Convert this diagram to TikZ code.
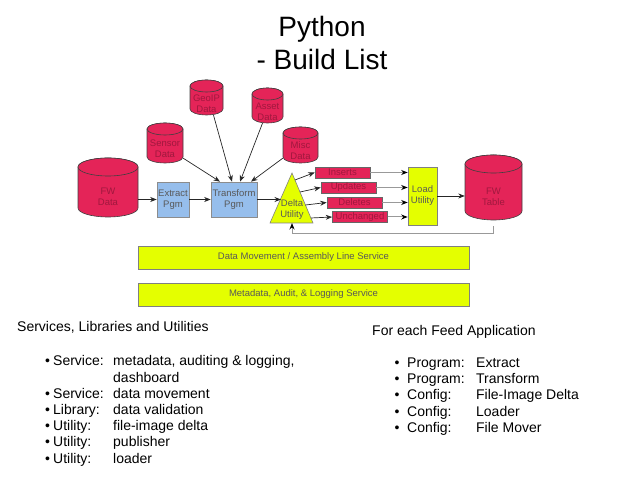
\documentclass[tikz,border=0pt]{standalone}
\usepackage{fontspec}
\setmainfont{Liberation Sans}
\usetikzlibrary{arrows.meta,calc}

\definecolor{dbred}{RGB}{228,36,88}
\definecolor{dbdark}{RGB}{160,24,62}
\definecolor{pgmblue}{RGB}{150,190,236}
\definecolor{utilyel}{RGB}{228,255,0}

\newcommand\dbcyl[7]{%
	\draw[dbline] (#2-#5,#3-#6) -- (#2-#5,#4+#6)
		arc[start angle=180,end angle=360,x radius=#5,y radius=#6]
		-- (#2+#5,#3-#6)
		arc[start angle=0,end angle=180,x radius=#5,y radius=#6] -- cycle;
	\draw[dbline] (#2,#3-#6) ellipse[x radius=#5,y radius=#6];
	\node[dbbox,minimum width=2*#5,minimum height=#3-#4] (#1) at (#2,{(#3+#4)/2}) {};
	\node[dbtext] (#1-t) at (#2,{(#3+#4)/2-#6}) {#7};%
}

\begin{document}
\begin{tikzpicture}[x=1pt,y=1pt,
	dbline/.style={draw=black!75,fill=dbred,line width=0.6pt},
	dbbox/.style={inner sep=0pt},
	dbtext/.style={text=dbdark,font=\fontsize{9.5}{11}\selectfont,align=center,inner sep=0pt},
	pgm/.style={draw=black!45,fill=pgmblue,text=black!65,font=\fontsize{9.5}{11}\selectfont,align=center,inner sep=0pt,line width=0.6pt},
	delt/.style={draw=black!60,fill=dbred,text=dbdark,font=\fontsize{9.5}{11}\selectfont,minimum width=55,minimum height=11,inner sep=0pt,line width=0.6pt},
	util/.style={draw=black!50,fill=utilyel,text=black!65,font=\fontsize{9.5}{11}\selectfont,align=center,inner sep=0pt,line width=0.6pt},
	ybar/.style={util,minimum width=331,minimum height=23},
	arr/.style={-{Stealth[length=6.5pt,width=5pt]},draw=black!85,line width=0.7pt},
	garr/.style={-{Stealth[length=6.5pt,width=5pt,color=black]},draw=black!40,line width=1pt},
	listfont/.style={font=\fontsize{14}{16.2}\selectfont,inner sep=0pt}]

	\useasboundingbox (0,0) rectangle (638,479);

	\node[font=\fontsize{28}{33}\selectfont,align=center,anchor=base] (title) at (322,409) {Python\\- Build List};

	\dbcyl{fwdata}{108}{321}{262}{30}{9}{FW\\Data}
	\dbcyl{sensor}{165}{356}{316}{18}{6}{Sensor\\Data}
	\dbcyl{geoip}{206.5}{399}{364}{16.5}{6}{GeoIP\\Data}
	\dbcyl{asset}{267.5}{391}{356}{15.5}{6}{Asset\\Data}
	\dbcyl{misc}{300.5}{352}{316}{17.5}{6}{Misc\\Data}
	\dbcyl{fwtable}{493.5}{324}{259}{28.5}{9}{FW\\Table}

	\node[pgm,minimum width=32,minimum height=35] (extract) at (173,279.5) {Extract\\Pgm};
	\node[pgm,minimum width=46,minimum height=35] (trans) at (234,279.5) {Transform\\Pgm};

	\coordinate (dtop) at (292,306);
	\coordinate (dbr) at (313,256);
	\coordinate (dbl) at (270,256);
	\coordinate (dbase) at (292,256);
	\draw[util] (dtop) -- (dbr) -- (dbl) -- cycle;
	\node[util,draw=none,fill=none] (delta) at (292,269) {Delta\\Utility};

	\node[delt] (ins) at (342.5,306.5) {Inserts};
	\node[delt] (upd) at (348.5,291.5) {Updates};
	\node[delt] (del) at (354.5,276.5) {Deletes};
	\node[delt] (unch) at (360,262) {Unchanged};

	\node[util,minimum width=29,minimum height=58] (load) at (422.5,283) {Load\\Utility};

	\node[ybar] (dmove) at (303.5,221.5) {Data Movement / Assembly Line Service};
	\node[ybar] (meta) at (303.5,184.5) {Metadata, Audit, \& Logging Service};

	\draw[arr] (extract.west -| fwdata.east) -- (extract.west);
	\draw[arr] (extract) -- (trans);
	\draw[arr] (trans.east) -- (trans.east -| {$(dtop)!0.5!(dbl)$});
	\draw[arr] ([yshift=5]sensor.south east) -- ([xshift=-14]trans.north);
	\draw[arr] ([xshift=7]geoip.south) -- ([xshift=-2]trans.north);
	\draw[arr] ([xshift=-5]asset.south) -- ([xshift=6]trans.north);
	\draw[arr] ([yshift=5]misc.south west) -- ([xshift=17]trans.north);

	\draw[arr] ($(dtop)!0.14!(dbr)$) -- (ins.west);
	\draw[arr] ($(dtop)!0.38!(dbr)$) -- (upd.west);
	\draw[arr] ($(dtop)!0.64!(dbr)$) -- (del.west);
	\draw[arr] ($(dtop)!0.9!(dbr)$) -- (unch.west);

	\draw[garr] (ins.east) -- (ins.east -| load.west);
	\draw[garr] (upd.east) -- (upd.east -| load.west);
	\draw[garr] (del.east) -- (del.east -| load.west);
	\draw[garr] (unch.east) -- (unch.east -| load.west);

	\draw[arr] (load.east) -- (load.east -| fwtable.west);
	\draw[garr] ([yshift=-6]fwtable.south) -- ++(0,-7) -| (dbase);

	\node[listfont,anchor=base west] (svchead) at (17,147) {Services, Libraries and Utilities};
	\node[listfont,anchor=base west] (svclist) at (45,113) {%
		\begin{tabular}[t]{@{}p{8pt}@{}p{60pt}@{}l@{}}
			•&Service:&metadata, auditing \& logging,\\
			&&dashboard\\
			•&Service:&data movement\\
			•&Library:&data validation\\
			•&Utility:&file-image delta\\
			•&Utility:&publisher\\
			•&Utility:&loader
		\end{tabular}};

	\node[listfont,anchor=base west] (feedhead) at (372,143.5) {For each Feed Application};
	\node[listfont,anchor=base west] (feedlist) at (394.5,111.5) {%
		\begin{tabular}[t]{@{}p{12.5pt}@{}p{69pt}@{}l@{}}
			•&Program:&Extract\\
			•&Program:&Transform\\
			•&Config:&File-Image Delta\\
			•&Config:&Loader\\
			•&Config:&File Mover
		\end{tabular}};
\end{tikzpicture}
\end{document}
